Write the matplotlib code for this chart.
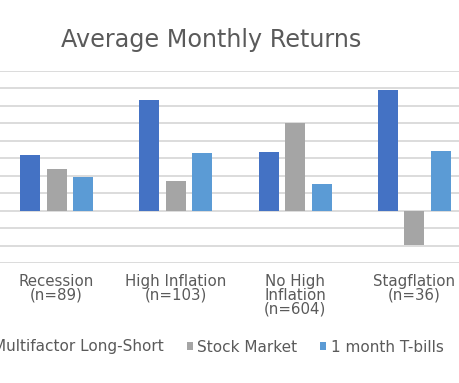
import numpy as np
import matplotlib
matplotlib.use('Agg')
import matplotlib.pyplot as plt

categories = ['Recession\n(n=89)', 'High Inflation\n(n=103)', 'No High\nInflation\n(n=604)', 'Stagflation\n(n=36)']
series_names = ['Multifactor Long-Short', 'Stock Market', '1 month T-bills']
multifactor = [0.32, 0.635, 0.335, 0.69]
stock_market = [0.24, 0.17, 0.50, -0.195]
tbills = [0.195, 0.33, 0.15, 0.34]
colors = ['#4472C4', '#A5A5A5', '#5B9BD5']

plt.rcParams['font.family'] = ['DejaVu Sans']

fig = plt.figure(figsize=(4.59, 3.83), dpi=100)
ax = fig.add_axes([0.0, 1 - 263 / 383, 1.0, (263 - 71) / 383])

x = np.arange(len(categories))
width = 0.168
step = 0.222
for i, (vals, name) in enumerate(zip([multifactor, stock_market, tbills], series_names)):
    ax.bar(x + (i - 1) * step, vals, width, color=colors[i], label=name, zorder=3)

ax.set_xlim(-0.474, 3.374)
ax.set_ylim(-0.3, 0.8)
ax.set_yticks(np.arange(-0.3, 0.81, 0.1))
ax.grid(axis='y', color='#d9d9d9', lw=1.3, zorder=0)
ax.tick_params(left=False, labelleft=False, bottom=False, labelbottom=False)
for s in ax.spines.values():
    s.set_visible(False)

for xi, cat in zip(x, categories):
    ax.annotate(cat, xy=(xi, 0), xycoords=('data', 'axes fraction'),
                xytext=(0, -8), textcoords='offset points',
                ha='center', va='top', fontsize=10.8, color='#5a5a5a',
                linespacing=0.88)

fig.text(211 / 459, 1 - 40 / 383, 'Average Monthly Returns', ha='center', va='center',
         fontsize=17.2, color='#5a5a5a')

fig.legend(loc='center right', bbox_to_anchor=(450 / 459, 1 - 347 / 383), ncol=3,
           frameon=False, fontsize=11, labelcolor='#5a5a5a', borderaxespad=0,
           handlelength=0.4, handleheight=0.4, handletextpad=0.3, columnspacing=1.5)

fig.savefig('out.png', dpi=100)
